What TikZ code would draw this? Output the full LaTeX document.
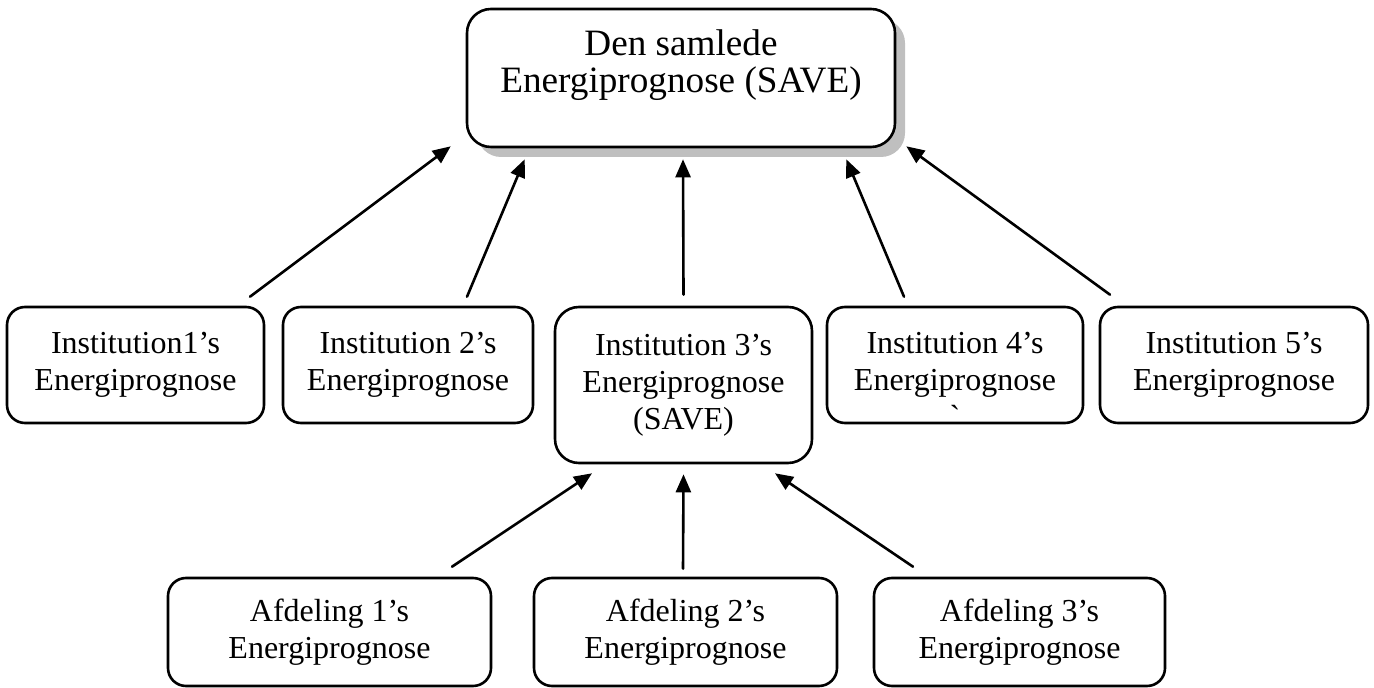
\documentclass[tikz,border=0pt]{standalone}
\usepackage{fontspec}
\setmainfont{Liberation Serif}
\usetikzlibrary{arrows.meta}
\usetikzlibrary{calc}
\usetikzlibrary{shadows}
\tikzset{>={Triangle[length=9pt,width=7.5pt]}}
\newcommand{\boxfont}{\fontsize{16}{18.5}\selectfont}
\newcommand{\topfont}{\fontsize{18.6}{18.5}\selectfont}

\begin{document}
\begin{tikzpicture}[x=0.5pt, y=-0.5pt, line cap=round, line join=round,
  box/.style={draw, line width=1.3pt, rounded corners=9pt, align=center, inner sep=0pt, font=\boxfont},
  arr/.style={->, line width=1.3pt}]

\useasboundingbox (0,0) rectangle (1374,688);

% the total forecast
\node[box, rounded corners=12pt, minimum width=214pt, minimum height=69pt, fill=white,
  drop shadow={fill=black!25, opacity=1, shadow xshift=5pt, shadow yshift=-5pt}] (save) at (681,78) {};
\node[align=center, font=\topfont, inner sep=0pt] (savetext) at (681,65) {Den samlede\\Energiprognose (SAVE)};

% institutions
\node[box, minimum width=128.5pt, minimum height=58pt] (inst1) at (135.5,365) {Institution1’s\\Energiprognose};
\node[box, minimum width=125pt, minimum height=58pt] (inst2) at (408,365) {Institution 2’s\\Energiprognose};
\node[box, rounded corners=12pt, minimum width=128.5pt, minimum height=78pt] (inst3) at (683.5,385) {Institution 3’s\\Energiprognose\\(SAVE)};
\node[box, minimum width=128pt, minimum height=58pt] (inst4) at (955,365) {Institution 4’s\\Energiprognose};
\node[anchor=base, font=\boxfont, inner sep=0pt] (inst4tick) at (955,428) {\textasciigrave};
\node[box, minimum width=134pt, minimum height=58pt] (inst5) at (1234,365) {Institution 5’s\\Energiprognose};

% departments
\node[box, minimum width=161.5pt, minimum height=54pt] (afd1) at (329.5,632) {Afdeling 1’s\\Energiprognose};
\node[box, minimum width=151.5pt, minimum height=54pt] (afd2) at (685.5,632) {Afdeling 2’s\\Energiprognose};
\node[box, minimum width=145.5pt, minimum height=54pt] (afd3) at (1019.5,632) {Afdeling 3’s\\Energiprognose};

\draw[arr] ($(inst1.north)+(114.5,-9)$) -- ($(save.south west)+(-15,-2)$);
\draw[arr] ($(inst2.north)+(59,-9)$) -- ($(save.south west)+(59,11)$);
\draw[arr] ($(inst3.north)+(0,-11)$) -- ($(save.south)+(2,11)$);
\draw[arr] ($(inst4.north)+(-51,-9)$) -- ($(save.south east)+(-50,11)$);
\draw[arr] ($(inst5.north)+(-124,-11)$) -- ($(save.south east)+(10,-2)$);

\draw[arr] ($(afd1.north)+(122.5,-10)$) -- ($(inst3.south)+(-91.5,9)$);
\draw[arr] ($(afd2.north)+(-2.5,-8)$) -- ($(inst3.south)+(0,10)$);
\draw[arr] ($(afd3.north)+(-106.5,-10)$) -- ($(inst3.south)+(91.5,9)$);

\end{tikzpicture}
\end{document}
